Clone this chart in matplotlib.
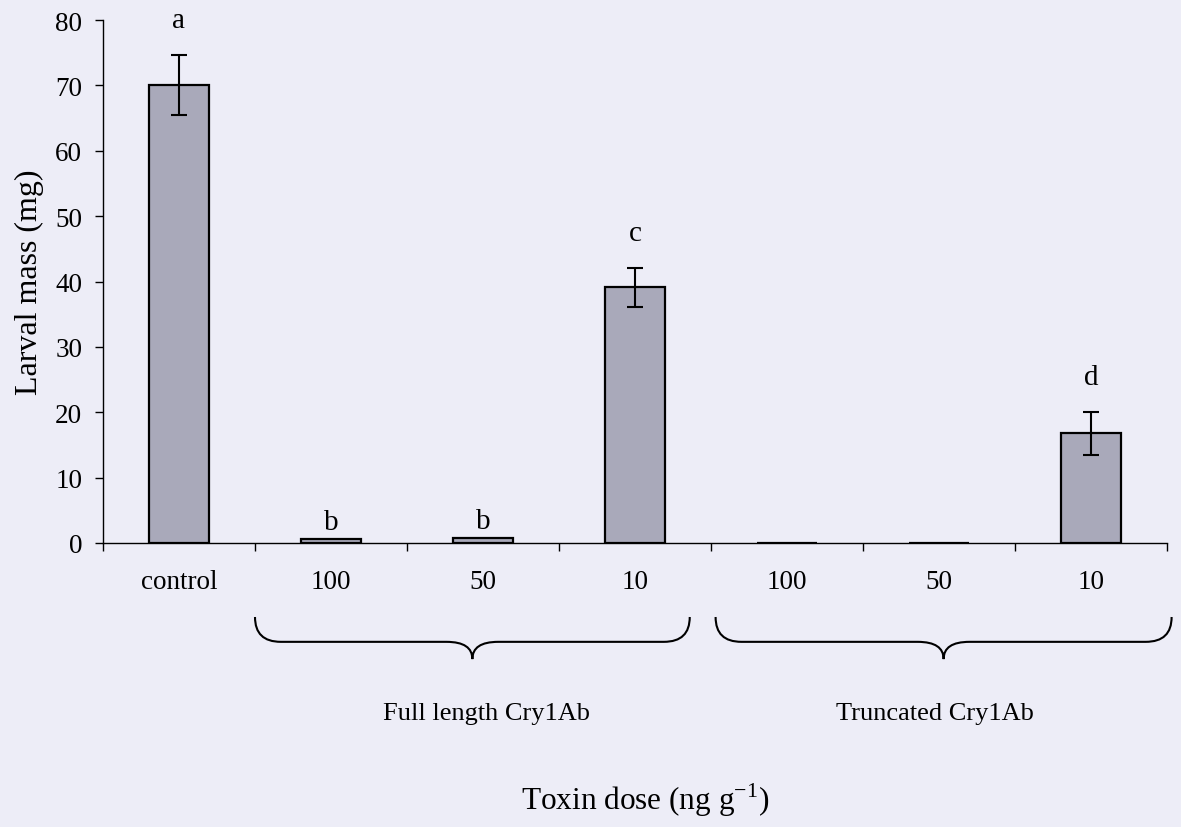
import numpy as np
import matplotlib
matplotlib.use('Agg')
import matplotlib.pyplot as plt
from matplotlib.path import Path
from matplotlib.patches import PathPatch
import matplotlib.transforms as mtransforms

plt.rcParams['font.family'] = ['Liberation Serif', 'DejaVu Serif']

# data
doses = ['control', '100', '50', '10', '100', '50', '10']
mass = [70.1, 0.6, 0.7, 39.1, 0.0, 0.0, 16.8]
err = [4.6, 0.0, 0.0, 3.0, 0.0, 0.0, 3.3]
letters = ['a', 'b', 'b', 'c', '', '', 'd']
groups = ['Full length Cry1Ab', 'Truncated Cry1Ab']
group_span = [(0.5, 3.36), (3.53, 6.53)]
group_label_x = [2.02, 4.97]

bg = '#ededf7'
fig = plt.figure(figsize=(11.81, 8.28), dpi=100, facecolor=bg)
ax = fig.add_axes([0.0872, 0.343, 0.901, 0.6316])
ax.set_facecolor(bg)

x = np.arange(len(doses))
ax.bar(x, mass, width=0.4, color='#a9a9ba', edgecolor='black', linewidth=1.6)
for i in range(len(x)):
    if err[i] > 0:
        ax.errorbar(x[i], mass[i], yerr=err[i], fmt='none', ecolor='black',
                    elinewidth=1.5, capsize=5.5, capthick=1.5)
    if letters[i]:
        pad = 3.3 if err[i] > 0 else 0.6
        ax.text(x[i], mass[i] + err[i] + pad, letters[i], ha='center', va='bottom',
                fontsize=21)

ax.set_xlim(-0.5, len(doses) - 0.5)
ax.set_ylim(0, 80)
ax.set_yticks(np.arange(0, 81, 10))
ax.set_xticks(x)
ax.set_xticklabels(doses)
ax.set_xticks(np.arange(-0.5, len(doses), 1), minor=True)
ax.tick_params(axis='x', which='major', length=0, pad=19, labelsize=19.5)
ax.tick_params(axis='x', which='minor', length=6, width=1, direction='out')
ax.tick_params(axis='y', length=6, width=1, pad=9, labelsize=19.5)
for s in ['top', 'right']:
    ax.spines[s].set_visible(False)
for s in ['left', 'bottom']:
    ax.spines[s].set_linewidth(1.0)
ax.set_ylabel('Larval mass (mg)', fontsize=23, labelpad=8)

# curly braces under the two toxin groups
trans = mtransforms.blended_transform_factory(ax.transData, ax.transAxes)
def brace(x0, x1, ytop=-0.1415, yline=-0.189, ytip=-0.222):
    xm = (x0 + x1) / 2
    c = 0.17
    verts = [(x0, ytop), (x0, yline), (x0 + c, yline),
             (xm - c, yline), (xm, yline), (xm, ytip),
             (xm, yline), (xm + c, yline),
             (x1 - c, yline), (x1, yline), (x1, ytop)]
    codes = [Path.MOVETO, Path.CURVE3, Path.CURVE3,
             Path.LINETO, Path.CURVE3, Path.CURVE3,
             Path.CURVE3, Path.CURVE3,
             Path.LINETO, Path.CURVE3, Path.CURVE3]
    ax.add_patch(PathPatch(Path(verts, codes), fill=False, lw=1.5,
                           edgecolor='black', transform=trans, clip_on=False))

for (x0, x1), gx, g in zip(group_span, group_label_x, groups):
    brace(x0, x1)
    ax.text(gx, -0.325, g, transform=trans, ha='center',
            va='center', fontsize=19)

fig.text(0.546, 0.034, 'Toxin dose (ng g$^{\\mathregular{-1}}$)', ha='center',
         va='center', fontsize=22.5)

plt.savefig('out.png', dpi=100, facecolor=bg)
